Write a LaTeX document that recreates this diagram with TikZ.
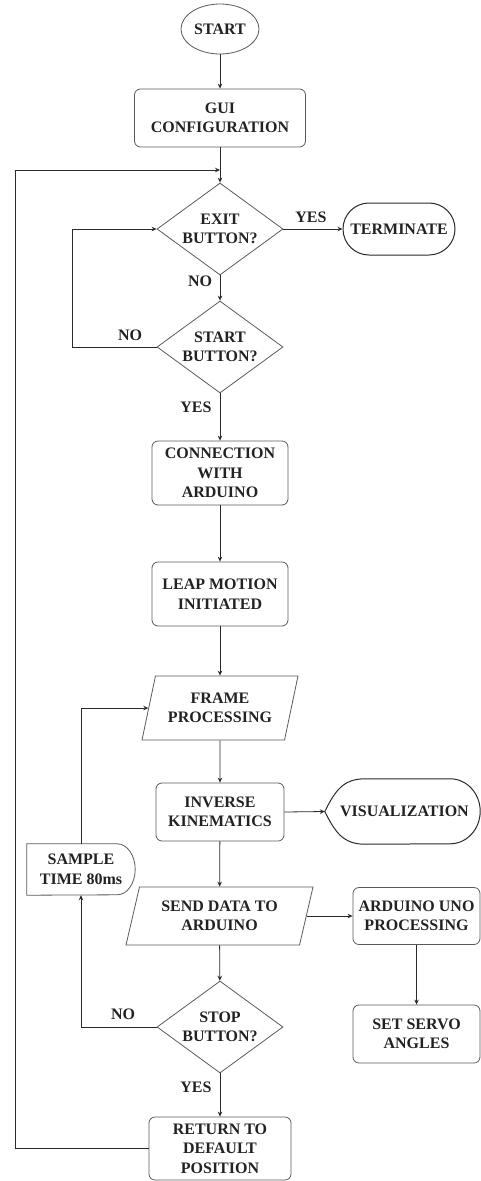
\documentclass[tikz,border=0pt]{standalone}
\usepackage{fontspec}
\setmainfont{Liberation Serif}
\usetikzlibrary{shapes.geometric,shapes.misc,arrows.meta,calc}
\definecolor{ln}{HTML}{5A5A5A}
\definecolor{dk}{HTML}{2A2A2A}
\definecolor{txt}{HTML}{222222}
\begin{document}
\begin{tikzpicture}[x=1pt,y=-1pt,
  base/.style={font=\bfseries\fontsize{16}{19.5}\selectfont, text=txt, align=center, inner sep=0pt},
  procbox/.style={base, draw=ln, line width=0.8pt, rounded corners=6pt},
  decision/.style={base, draw=ln, line width=0.8pt, diamond, aspect=1.37, minimum width=126pt, minimum height=92pt},
  iobox/.style={base, draw=ln, line width=0.8pt, trapezium, trapezium stretches body, trapezium left angle=66, trapezium right angle=114},
  arr/.style={draw=dk, line width=0.8pt, -{Stealth[length=5pt,width=4.5pt]}},
  lbl/.style={base}
]
\useasboundingbox (0,0) rectangle (481,1181);

\node[base, draw=ln, line width=0.8pt, ellipse, minimum width=78pt, minimum height=50pt] (start) at (220,29) {START};
\node[procbox, minimum width=171pt, minimum height=58pt] (gui) at (220,118) {GUI\\CONFIGURATION};
\node[decision] (exit) at (220,229) {EXIT\\BUTTON?};
\node[base, draw=dk, line width=1pt, rounded rectangle, minimum width=112pt, minimum height=52pt] (term) at (399,229) {TERMINATE};
\node[decision] (startb) at (220,347) {START\\BUTTON?};
\node[procbox, minimum width=136pt, minimum height=64pt] (conn) at (220,473) {CONNECTION\\WITH\\ARDUINO};
\node[procbox, minimum width=136pt, minimum height=64pt] (leap) at (220,594) {LEAP MOTION\\INITIATED};
\node[iobox, minimum width=156pt, minimum height=64pt] (frame) at (220,708) {FRAME\\PROCESSING};
\node[procbox, minimum width=128pt, minimum height=58pt] (inv) at (220,812) {INVERSE\\KINEMATICS};
\node[base, minimum width=155pt, minimum height=65pt] (vis) at (402.5,811.5) {\hspace*{4pt}VISUALIZATION};
\node[base, minimum width=108pt, minimum height=51pt] (sample) at (81,869.5) {SAMPLE\\TIME 80ms};
\node[iobox, minimum width=187pt, minimum height=58pt] (send) at (219.5,916) {SEND DATA TO\\ARDUINO};
\node[procbox, minimum width=127pt, minimum height=57pt] (uno) at (416.5,916) {ARDUINO UNO\\PROCESSING};
\node[procbox, minimum width=127pt, minimum height=58pt] (servo) at (416.5,1034) {SET SERVO\\ANGLES};
\node[decision] (stop) at (220,1027) {STOP\\BUTTON?};
\node[procbox, minimum width=142pt, minimum height=63pt] (ret) at (220,1148.5) {RETURN TO\\DEFAULT\\POSITION};

% display shape for visualization
\draw[dk, line width=1pt] (vis.west) .. controls +(10,-20) and +(-22,0) .. ($(vis.north west)+(40,0)$)
  -- ($(vis.north east)+(-30,0)$) arc[start angle=-90, end angle=90, x radius=30, y radius=32.5]
  -- ($(vis.south west)+(40,0)$) .. controls +(-22,0) and +(10,20) .. (vis.west) -- cycle;
% delay shape for sample time
\draw[ln, line width=0.8pt] (sample.south west) -- (sample.north west) -- ($(sample.north east)+(-18,0)$)
  arc[start angle=-90, end angle=90, x radius=18, y radius=25.5] -- cycle;

\coordinate (fb) at (220,170);
\coordinate (lx) at (15,0);
\coordinate (nx1) at (72,0);

\draw[arr] (start) -- (gui);
\draw[arr] (gui) -- (exit);
\draw[arr] (ret.west) -- (ret.west -| lx) |- (fb);
\draw[arr] (exit.east) -- (term.west);
\node[lbl] (yes1) at (311,217) {YES};
\draw[arr] (exit.south) -- (startb.north);
\node[lbl] (no1) at (200,281) {NO};
\draw[arr] (startb.west) -- (startb.west -| nx1) |- (exit.west);
\node[lbl] (no2) at (130,335) {NO};
\draw[arr] (startb.south) -- (conn.north);
\node[lbl] (yes2) at (196,407) {YES};
\draw[arr] (conn) -- (leap);
\draw[arr] (leap) -- (frame);
\draw[arr] (frame) -- (inv);
\draw[arr] (inv.east) -- (vis.west);
\draw[arr] (inv) -- (send);
\draw[arr] (send.east) -- (uno.west);
\draw[arr] (uno) -- (servo);
\draw[arr] (send) -- (stop);
\draw[arr] (stop.west) -| (sample.south);
\node[lbl] (no3) at (123,1014) {NO};
\draw[arr] (sample.north) |- (frame.west);
\draw[arr] (stop.south) -- (ret.north);
\node[lbl] (yes3) at (196,1087) {YES};
\end{tikzpicture}
\end{document}
